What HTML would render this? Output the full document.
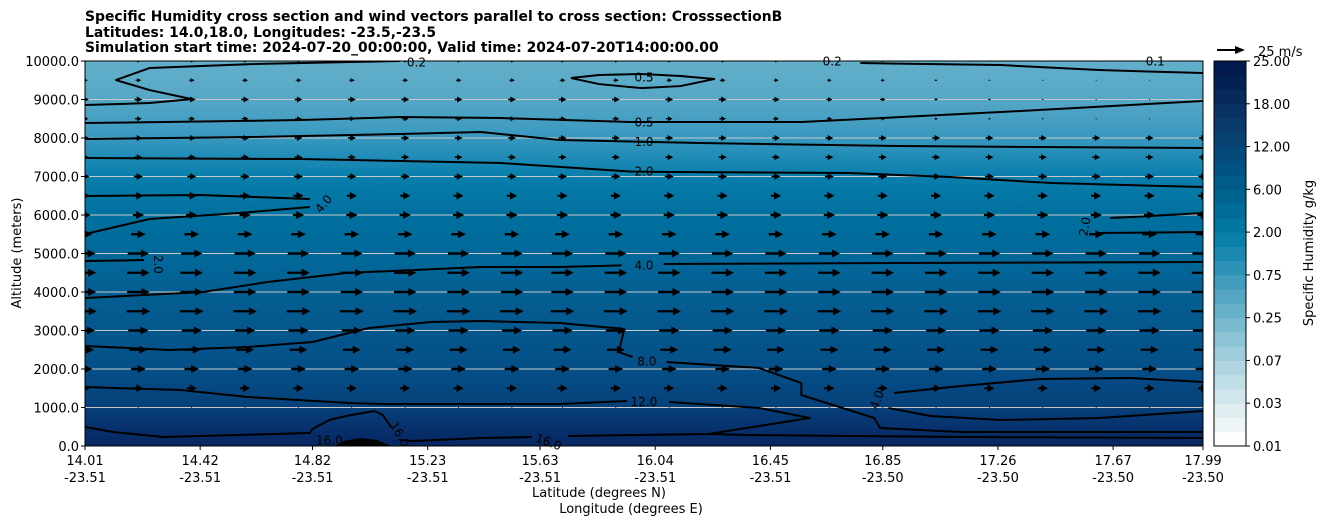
<!DOCTYPE html>
<html><head><meta charset="utf-8"><style>
body{margin:0;background:#fff;}
svg{display:block;font-family:"DejaVu Sans","Liberation Sans",sans-serif;}
</style></head><body>
<svg id="chart" width="1326" height="526" viewBox="0 0 1326 526" xmlns="http://www.w3.org/2000/svg">
<defs>
<linearGradient id="bg" x1="0" y1="0" x2="0" y2="1">
<stop offset="0" stop-color="#62afca"/><stop offset="0.1" stop-color="#56a7c6"/>
<stop offset="0.2" stop-color="#3898bf"/><stop offset="0.25" stop-color="#1f8bb6"/>
<stop offset="0.3" stop-color="#0a7eac"/><stop offset="0.4" stop-color="#00709f"/>
<stop offset="0.5" stop-color="#02699a"/><stop offset="0.6" stop-color="#045f93"/>
<stop offset="0.7" stop-color="#04578d"/><stop offset="0.8" stop-color="#054f87"/>
<stop offset="0.9" stop-color="#06407a"/><stop offset="0.95" stop-color="#07326d"/>
<stop offset="1" stop-color="#062662"/>
</linearGradient>
<clipPath id="clip"><rect x="85" y="61" width="1118" height="385"/></clipPath>
</defs>
<g font-weight="bold" font-size="13.9">
<text x="85" y="21">Specific Humidity cross section and wind vectors parallel to cross section: CrosssectionB</text>
<text x="85" y="37">Latitudes: 14.0,18.0, Longitudes: -23.5,-23.5</text>
<text x="85" y="52">Simulation start time: 2024-07-20_00:00:00, Valid time: 2024-07-20T14:00:00.00</text>
</g>
<rect x="85" y="61" width="1118" height="385" fill="url(#bg)"/>
<g id="grid" clip-path="url(#clip)"></g>
<g id="contours" clip-path="url(#clip)"></g>
<g id="arrows" clip-path="url(#clip)"></g>
<g id="clabels" font-size="12" fill="#000"></g>
<rect x="85" y="61" width="1118" height="385" fill="none" stroke="#000" stroke-width="1"/>
<g id="yaxis" font-size="13"></g>
<g id="xaxis" font-size="13"></g>
<text x="21" y="253" font-size="13" text-anchor="middle" transform="rotate(-90 21 253)">Altitude (meters)</text>
<text x="599" y="497" font-size="13" text-anchor="middle">Latitude (degrees N)</text>
<text x="631" y="513" font-size="13" text-anchor="middle">Longitude (degrees E)</text>
<g id="colorbar"></g>
<text x="1313" y="253" font-size="13" text-anchor="middle" transform="rotate(-90 1313 253)">Specific Humidity g/kg</text>
<g>
<line x1="1217" y1="50" x2="1236" y2="50" stroke="#000" stroke-width="2"/>
<polygon points="1245,50 1235,46 1235,54" fill="#000"/>
<text x="1258" y="56" font-size="13">25 m/s</text>
</g>
</svg>
<script>
const NS='http://www.w3.org/2000/svg';
const latDomain=[14.01,17.99];
const altDomain=[0,10000];
const yTicks=[0,1000,2000,3000,4000,5000,6000,7000,8000,9000,10000];
const xTickLat=[14.01,14.42,14.82,15.23,15.63,16.04,16.45,16.85,17.26,17.67,17.99];
const xTickLon=['-23.51','-23.51','-23.51','-23.51','-23.51','-23.51','-23.51','-23.50','-23.50','-23.50','-23.50'];
const cbLabels=['0.01','0.03','0.07','0.25','0.75','2.00','6.00','12.00','18.00','25.00'];
const cbColors=['#ffffff','#eef5f7','#e0eef2','#d0e6ec','#c0dee6','#b0d5e1','#9ecddb','#8cc3d5','#7abacf','#67b0c9','#55a6c3','#419cbd','#2d92b6','#1a88af','#0a7fa8','#0076a1','#006d99','#006491','#005b89','#005282','#044a7b','#074273','#083a6b','#073263','#052a5b','#032253','#021a4e'];
const arrowAlts=[0,500,1000,1500,2000,2500,3000,3500,4000,4500,5000,5500,6000,6500,7000,7500,8000,8500,9000,9500,10000];
const arrowSpeed=[0,0.5,1,9,13,16,18,21,20,20,19,13,10,9,8,7,7,6,7,5,4];
const arrowLats=[14.01,14.20,14.39,14.58,14.77,14.96,15.15,15.34,15.53,15.71,15.90,16.09,16.28,16.47,16.66,16.85,17.04,17.23,17.42,17.61,17.80,17.99];
const topFade=[1,1,1,1,1,1,1,1,1,1,1,1,1,0.9,0.8,0.7,0.5,0.35,0.25,0.2,0.15,0.15];
const contourLines=[
 [[15.13,10000],[14.60,9920],[14.24,9817],[14.12,9505],[14.24,9245],[14.39,9010],[14.24,8908],[14.01,8856]],
 [[16.77,9947],[17.27,9895],[17.62,9765],[17.99,9687]],
 [[15.74,9557],[15.84,9635],[15.99,9661],[16.13,9609],[16.25,9531],[16.13,9349],[15.99,9297],[15.84,9401],[15.74,9557]],
 [[14.01,8388],[14.78,8466],[15.13,8544],[15.49,8518],[15.95,8414],[16.56,8414],[17.27,8674],[17.99,8960]],
 [[14.01,7973],[14.60,8025],[15.13,8103],[15.42,8155],[15.70,7947],[16.20,7869],[16.91,7791],[17.99,7739]],
 [[14.01,7479],[14.78,7453],[15.49,7350],[15.95,7130],[16.09,7116],[16.73,7090],[17.09,6986],[17.45,6830],[17.99,6726]],
 [[14.01,6493],[14.42,6519],[14.81,6415]],
 [[14.81,6207],[14.56,6051],[14.24,5895],[14.01,5506]],
 [[14.01,4804],[14.22,4830]],
 [[14.01,3844],[14.43,4000],[14.66,4259],[14.94,4493],[15.42,4649],[15.70,4649],[15.92,4690]],
 [[16.07,4727],[16.91,4753],[17.99,4778]],
 [[14.01,2597],[14.31,2493],[14.59,2571],[14.82,2701],[15.02,3064],[15.24,3220],[15.42,3246],[15.70,3194],[15.93,3038],[15.91,2441],[15.96,2311]],
 [[16.08,2181],[16.41,2026],[16.56,1636],[16.56,1324],[16.82,727],[16.84,467],[17.13,364],[17.99,364]],
 [[14.01,1532],[14.11,1506],[14.35,1454],[14.59,1272],[14.95,1116],[15.07,1090],[15.42,1090],[15.70,1090],[15.94,1168]],
 [[16.09,1142],[16.41,987],[16.59,727],[16.23,312],[16.37,286],[17.13,234],[17.99,208]],
 [[14.01,493],[14.11,363],[14.29,234],[14.81,338],[14.82,441],[14.88,675],[14.94,779],[15.02,883],[15.04,909],[15.07,805],[15.10,493]],
 [[15.13,156],[15.18,130],[15.42,208],[15.60,234]],
 [[15.73,260],[16.23,312]],
 [[16.89,1376],[17.13,1558],[17.41,1740],[17.73,1766],[17.99,1662]],
 [[16.87,987],[17.02,779],[17.27,675],[17.62,727],[17.99,909]],
 [[17.66,5921],[17.80,5973],[17.99,6051]],
 [[17.62,5532],[17.99,5558]]
];
const bumpShape=[[14.90,0],[14.93,130],[14.99,208],[15.05,156],[15.10,0]];
const contourLabels=[
 ['0.2',15.19,9960,0],['0.2',16.67,9990,0],['0.1',17.82,9990,0],['0.5',16.00,9570,0],['0.5',16.00,8400,0],
 ['1.0',16.00,7900,0],['2.0',16.00,7130,0],['4.0',14.86,6290,-50],['2.0',14.27,4720,90],['4.0',16.00,4690,0],
 ['8.0',16.01,2200,0],['12.0',16.00,1140,0],['16.0',14.88,140,0],['16.0',15.13,300,60],['16.0',15.66,100,20],
 ['4.0',16.83,1200,-70],['2.0',17.57,5700,-80]
];
const X=v=>85+(v-latDomain[0])/(latDomain[1]-latDomain[0])*1118;
const Y=v=>446-(v-altDomain[0])/(altDomain[1]-altDomain[0])*385;
function mk(tag,attrs,parent){const e=document.createElementNS(NS,tag);for(const k in attrs)e.setAttribute(k,attrs[k]);parent.appendChild(e);return e;}
const grid=document.getElementById('grid');
yTicks.forEach(t=>{
 const l=mk('line',{x1:85,x2:1203,y1:Y(t),y2:Y(t),stroke:'#c8c8c8','stroke-width':1},grid);
 
 
});
const cg=document.getElementById('contours');
contourLines.forEach(line=>{
 const p=mk('polyline',{points:line.map(d=>X(d[0])+','+Y(d[1])).join(' '),fill:'none',stroke:'#000','stroke-width':2,'stroke-linejoin':'round'},cg);
 
 
});
const bump=mk('polygon',{points:bumpShape.map(d=>X(d[0])+','+Y(d[1])).join(' '),fill:'#000'},cg);


const ag=document.getElementById('arrows');
const pxPerMs=1.12;
arrowAlts.forEach((alt,ri)=>{
 arrowLats.forEach((lat,ci)=>{
  let s=arrowSpeed[ri]*(alt>=8500?topFade[ci]:1);
  const L=s*pxPerMs; if(L<0.3)return;
  const cx=X(lat),cy=Y(alt);
  const x0=cx-L/2,x1=cx+L/2;
  const hl=Math.min(8,L*0.7),hw=Math.min(4,Math.max(0.8,hl*0.55)),sw=Math.min(1.2,Math.max(0.4,L*0.1));
  const pts=[[x0,cy-sw],[x1-hl,cy-sw],[x1-hl,cy-hw],[x1,cy],[x1-hl,cy+hw],[x1-hl,cy+sw],[x0,cy+sw]];
  const a=mk('polygon',{points:pts.map(p=>p[0].toFixed(1)+','+p[1].toFixed(1)).join(' '),fill:'#000'},ag);
  
  
 });
});
const lg=document.getElementById('clabels');
contourLabels.forEach(c=>{
 const x=X(c[1]),y=Y(c[2]);
 const t=mk('text',{x:x,y:y+4,'text-anchor':'middle',transform:'rotate('+c[3]+' '+x+' '+y+')'},lg);
 t.textContent=c[0];
 
 
});
const ya=document.getElementById('yaxis');
yTicks.forEach(t=>{
 mk('line',{x1:81,x2:85,y1:Y(t),y2:Y(t),stroke:'#000'},ya);
 const tx=mk('text',{x:79,y:Y(t)+5,'text-anchor':'end'},ya);
 tx.textContent=t.toFixed(1);
 
 
});
const xa=document.getElementById('xaxis');
xTickLat.forEach((t,i)=>{
 const x=X(t);
 mk('line',{x1:x,x2:x,y1:446,y2:450,stroke:'#000'},xa);
 const tx=mk('text',{x:x,y:465,'text-anchor':'middle'},xa);
 tx.textContent=t.toFixed(2);
 
 
 const tl=mk('text',{x:x,y:482,'text-anchor':'middle'},xa);
 tl.textContent=xTickLon[i];
 
 
});
const cb=document.getElementById('colorbar');
const bh=385/cbColors.length;
cbColors.forEach((c,i)=>{
 const r=mk('rect',{x:1214,y:446-(i+1)*bh,width:32,height:bh+0.5,fill:c},cb);
 
 
});
mk('rect',{x:1214,y:61,width:32,height:385,fill:'none',stroke:'#000'},cb);
cbLabels.forEach((l,i)=>{
 const y=446-i*385/(cbLabels.length-1);
 mk('line',{x1:1246,x2:1250,y1:y,y2:y,stroke:'#000'},cb);
 const t=mk('text',{x:1253,y:y+5,'font-size':13},cb);
 t.textContent=l;
 
 
});
</script>
</body></html>
